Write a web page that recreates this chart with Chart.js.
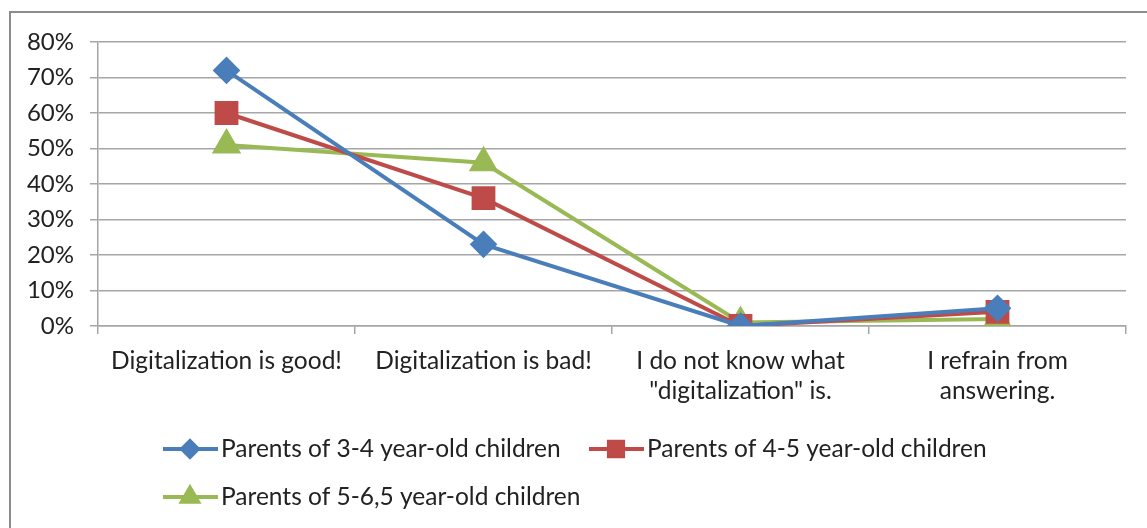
<!DOCTYPE html>
<html>
<head>
<meta charset="utf-8">
<script src="https://cdn.jsdelivr.net/npm/chart.js@4.4.1/dist/chart.umd.min.js"></script>
<style>
  html, body { margin: 0; padding: 0; background: #fff; overflow: hidden; }
  #frame {
    position: absolute; left: 9px; top: 11px; width: 1200px; height: 600px;
    border-left: 2px solid #8c8c8c; border-top: 2px solid #8c8c8c;
  }
  #wrap { position: absolute; left: 0; top: 0; width: 1147px; height: 528px; }
</style>
</head>
<body>
<div id="frame"></div>
<div id="wrap"><canvas id="chart"></canvas></div>
<script>
const categories = [
  "Digitalization is good!",
  "Digitalization is bad!",
  ["I do not know what", "\"digitalization\" is."],
  ["I refrain from", "answering."]
];
const seriesNames = [
  "Parents of 3-4 year-old children",
  "Parents of 4-5 year-old children",
  "Parents of 5-6,5 year-old children"
];
const parents34 = [72, 23, 0, 5];
const parents45 = [60, 36, 0, 4];
const parents565 = [51, 46, 1, 2];
const yTicks = [0, 10, 20, 30, 40, 50, 60, 70, 80];

const FONT = "Lato, 'Open Sans', sans-serif";
const GRID = "#a6a6a6";

// legend drawn by hand: two rows, left aligned like the original
const legendPlugin = {
  id: "manualLegend",
  afterDraw(chart) {
    const ctx = chart.ctx;
    const spots = [[163, 449], [589, 449], [163, 497]];
    chart.data.datasets.forEach((ds, i) => {
      const [x, y] = spots[i];
      ctx.save();
      ctx.strokeStyle = ds.borderColor;
      ctx.lineWidth = 4;
      ctx.beginPath();
      ctx.moveTo(x, y);
      ctx.lineTo(x + 55, y);
      ctx.stroke();
      Chart.helpers.drawPoint(ctx, {
        pointStyle: ds.pointStyle,
        radius: ds.pointRadius * 0.72,
        rotation: 0,
        borderWidth: 1
      }, x + 27, y);
      ctx.fillStyle = ds.pointBackgroundColor;
      ctx.fill();
      ctx.fillStyle = "#222";
      ctx.font = "24.5px " + FONT;
      ctx.textBaseline = "middle";
      ctx.fillText(ds.label, x + 58, y);
      ctx.restore();
    });
  }
};

function series(label, data, color, style, r) {
  return {
    label: label,
    data: data,
    borderColor: color,
    backgroundColor: color,
    pointBackgroundColor: color,
    pointBorderColor: color,
    borderWidth: 4,
    pointStyle: style,
    pointRadius: r,
    pointHoverRadius: r,
    tension: 0
  };
}

new Chart(document.getElementById("chart"), {
  type: "line",
  data: {
    labels: categories,
    datasets: [
      series(seriesNames[0], parents34, "#4a7ebb", "rectRot", 11),
      series(seriesNames[1], parents45, "#be4b48", "rect", 14),
      series(seriesNames[2], parents565, "#98b954", "triangle", 13)
    ]
  },
  options: {
    responsive: true,
    maintainAspectRatio: false,
    animation: false,
    layout: { padding: { top: 42, right: 21, left: 0, bottom: 0 } },
    plugins: { legend: { display: false }, tooltip: { enabled: false } },
    scales: {
      x: {
        offset: true,
        afterFit(scale) { scale.height = 202; },
        grid: { offset: true, drawOnChartArea: false, drawTicks: true, tickLength: 8, color: GRID, lineWidth: 1.5 },
        border: { display: true, color: GRID, width: 1.5 },
        ticks: { color: "#222", font: { family: FONT, size: 24.5, lineHeight: 1.23 }, padding: 12, maxRotation: 0, autoSkip: false }
      },
      y: {
        min: 0,
        max: 80,
        afterFit(scale) { scale.width = 98; },
        afterBuildTicks(scale) { scale.ticks = yTicks.map(v => ({ value: v })); },
        grid: { color: GRID, lineWidth: 1.5, drawTicks: true, tickLength: 8 },
        border: { display: true, color: GRID, width: 1.5 },
        ticks: { color: "#222", font: { family: FONT, size: 24 }, padding: 16, callback: v => v + "%" }
      }
    }
  },
  plugins: [legendPlugin]
});
</script>
</body>
</html>
